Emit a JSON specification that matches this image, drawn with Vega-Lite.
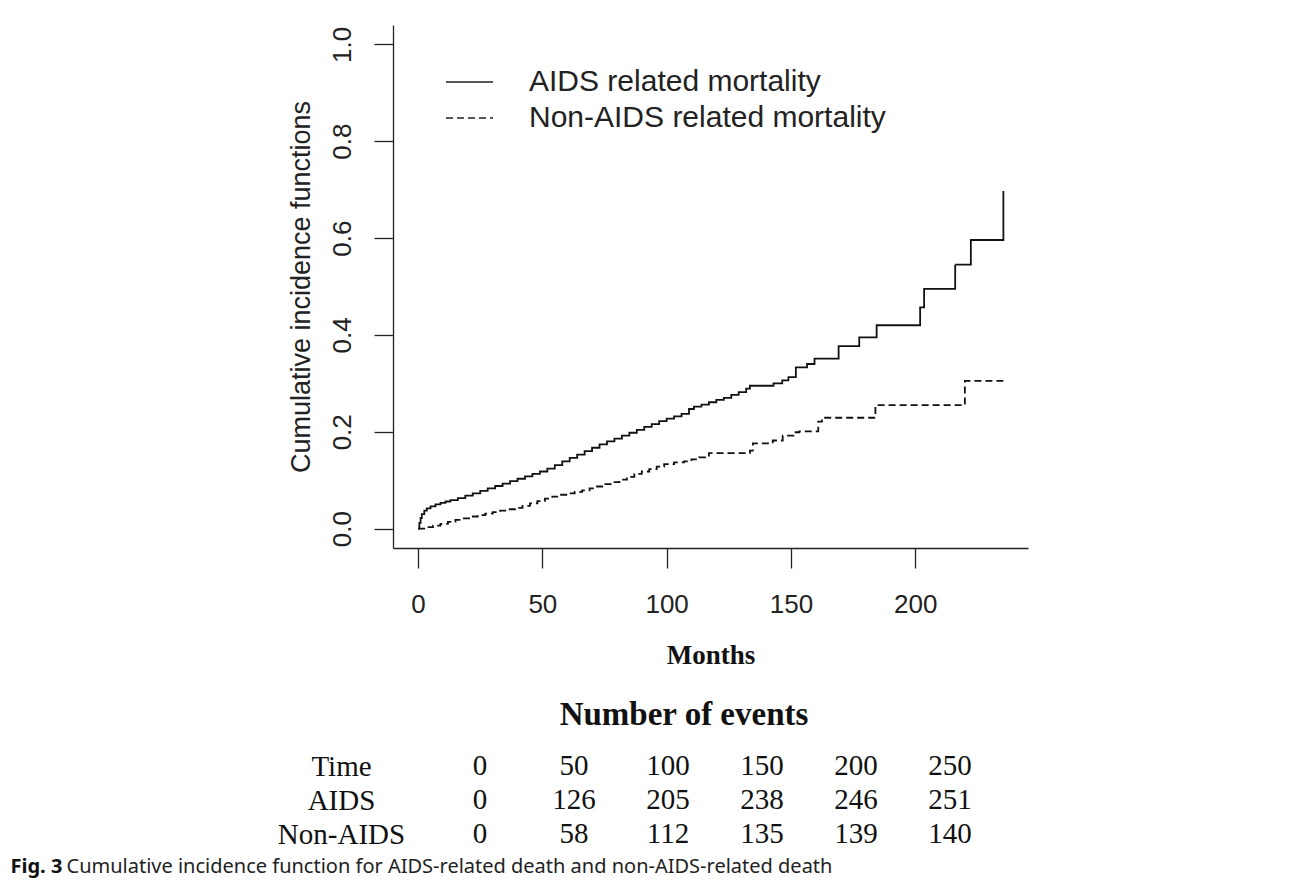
{
  "$schema": "https://vega.github.io/schema/vega-lite/v6.json",
  "background": "white",
  "padding": {"left": 10, "top": 25, "right": 10, "bottom": 5},
  "spacing": 31,
  "config": {
    "view": {"stroke": null},
    "axis": {"grid": false}
  },
  "vconcat": [
    {
      "width": 635,
      "height": 523,
      "data": {
        "values": [
          {"series": "AIDS related mortality", "month": 0, "cif": 0},
          {"series": "AIDS related mortality", "month": 0.5, "cif": 0.012},
          {"series": "AIDS related mortality", "month": 1, "cif": 0.022},
          {"series": "AIDS related mortality", "month": 1.5, "cif": 0.03},
          {"series": "AIDS related mortality", "month": 2.5, "cif": 0.037},
          {"series": "AIDS related mortality", "month": 3.5, "cif": 0.042},
          {"series": "AIDS related mortality", "month": 5, "cif": 0.046},
          {"series": "AIDS related mortality", "month": 7, "cif": 0.05},
          {"series": "AIDS related mortality", "month": 9, "cif": 0.053},
          {"series": "AIDS related mortality", "month": 11, "cif": 0.056},
          {"series": "AIDS related mortality", "month": 13, "cif": 0.059},
          {"series": "AIDS related mortality", "month": 16, "cif": 0.063},
          {"series": "AIDS related mortality", "month": 19, "cif": 0.068},
          {"series": "AIDS related mortality", "month": 22, "cif": 0.073},
          {"series": "AIDS related mortality", "month": 25, "cif": 0.078},
          {"series": "AIDS related mortality", "month": 28, "cif": 0.083},
          {"series": "AIDS related mortality", "month": 31, "cif": 0.088},
          {"series": "AIDS related mortality", "month": 34, "cif": 0.093},
          {"series": "AIDS related mortality", "month": 37, "cif": 0.098},
          {"series": "AIDS related mortality", "month": 40, "cif": 0.103},
          {"series": "AIDS related mortality", "month": 43, "cif": 0.108},
          {"series": "AIDS related mortality", "month": 46, "cif": 0.113},
          {"series": "AIDS related mortality", "month": 49, "cif": 0.118},
          {"series": "AIDS related mortality", "month": 52, "cif": 0.124},
          {"series": "AIDS related mortality", "month": 55, "cif": 0.131},
          {"series": "AIDS related mortality", "month": 58, "cif": 0.139},
          {"series": "AIDS related mortality", "month": 61, "cif": 0.146},
          {"series": "AIDS related mortality", "month": 64, "cif": 0.153},
          {"series": "AIDS related mortality", "month": 67, "cif": 0.16},
          {"series": "AIDS related mortality", "month": 70, "cif": 0.167},
          {"series": "AIDS related mortality", "month": 73, "cif": 0.174},
          {"series": "AIDS related mortality", "month": 76, "cif": 0.18},
          {"series": "AIDS related mortality", "month": 79, "cif": 0.186},
          {"series": "AIDS related mortality", "month": 82, "cif": 0.192},
          {"series": "AIDS related mortality", "month": 85, "cif": 0.198},
          {"series": "AIDS related mortality", "month": 88, "cif": 0.204},
          {"series": "AIDS related mortality", "month": 91, "cif": 0.21},
          {"series": "AIDS related mortality", "month": 94, "cif": 0.216},
          {"series": "AIDS related mortality", "month": 97, "cif": 0.222},
          {"series": "AIDS related mortality", "month": 100, "cif": 0.227},
          {"series": "AIDS related mortality", "month": 103, "cif": 0.232},
          {"series": "AIDS related mortality", "month": 106, "cif": 0.237},
          {"series": "AIDS related mortality", "month": 109, "cif": 0.247},
          {"series": "AIDS related mortality", "month": 111, "cif": 0.252},
          {"series": "AIDS related mortality", "month": 114, "cif": 0.256},
          {"series": "AIDS related mortality", "month": 117, "cif": 0.261},
          {"series": "AIDS related mortality", "month": 120, "cif": 0.266},
          {"series": "AIDS related mortality", "month": 123, "cif": 0.27},
          {"series": "AIDS related mortality", "month": 126, "cif": 0.276},
          {"series": "AIDS related mortality", "month": 129, "cif": 0.282},
          {"series": "AIDS related mortality", "month": 132, "cif": 0.289},
          {"series": "AIDS related mortality", "month": 133.5, "cif": 0.295},
          {"series": "AIDS related mortality", "month": 143, "cif": 0.3},
          {"series": "AIDS related mortality", "month": 146.5, "cif": 0.306},
          {"series": "AIDS related mortality", "month": 149, "cif": 0.313},
          {"series": "AIDS related mortality", "month": 152, "cif": 0.333},
          {"series": "AIDS related mortality", "month": 156.5, "cif": 0.34},
          {"series": "AIDS related mortality", "month": 159.5, "cif": 0.351},
          {"series": "AIDS related mortality", "month": 169.2, "cif": 0.377},
          {"series": "AIDS related mortality", "month": 177.5, "cif": 0.395},
          {"series": "AIDS related mortality", "month": 184.5, "cif": 0.42},
          {"series": "AIDS related mortality", "month": 202, "cif": 0.457},
          {"series": "AIDS related mortality", "month": 203.6, "cif": 0.495},
          {"series": "AIDS related mortality", "month": 216.1, "cif": 0.545},
          {"series": "AIDS related mortality", "month": 222.4, "cif": 0.596},
          {"series": "AIDS related mortality", "month": 235.5, "cif": 0.697},
          {"series": "Non-AIDS related mortality", "month": 0, "cif": 0},
          {"series": "Non-AIDS related mortality", "month": 3.5, "cif": 0.003},
          {"series": "Non-AIDS related mortality", "month": 6, "cif": 0.006},
          {"series": "Non-AIDS related mortality", "month": 9, "cif": 0.01},
          {"series": "Non-AIDS related mortality", "month": 12, "cif": 0.014},
          {"series": "Non-AIDS related mortality", "month": 15, "cif": 0.018},
          {"series": "Non-AIDS related mortality", "month": 18, "cif": 0.021},
          {"series": "Non-AIDS related mortality", "month": 21, "cif": 0.025},
          {"series": "Non-AIDS related mortality", "month": 24, "cif": 0.028},
          {"series": "Non-AIDS related mortality", "month": 27, "cif": 0.031},
          {"series": "Non-AIDS related mortality", "month": 30, "cif": 0.034},
          {"series": "Non-AIDS related mortality", "month": 33, "cif": 0.037},
          {"series": "Non-AIDS related mortality", "month": 36, "cif": 0.04},
          {"series": "Non-AIDS related mortality", "month": 39, "cif": 0.043},
          {"series": "Non-AIDS related mortality", "month": 42, "cif": 0.047},
          {"series": "Non-AIDS related mortality", "month": 45, "cif": 0.052},
          {"series": "Non-AIDS related mortality", "month": 48, "cif": 0.057},
          {"series": "Non-AIDS related mortality", "month": 51, "cif": 0.062},
          {"series": "Non-AIDS related mortality", "month": 54, "cif": 0.066},
          {"series": "Non-AIDS related mortality", "month": 57, "cif": 0.07},
          {"series": "Non-AIDS related mortality", "month": 60, "cif": 0.073},
          {"series": "Non-AIDS related mortality", "month": 63, "cif": 0.076},
          {"series": "Non-AIDS related mortality", "month": 66, "cif": 0.079},
          {"series": "Non-AIDS related mortality", "month": 69, "cif": 0.083},
          {"series": "Non-AIDS related mortality", "month": 72, "cif": 0.087},
          {"series": "Non-AIDS related mortality", "month": 75, "cif": 0.092},
          {"series": "Non-AIDS related mortality", "month": 78, "cif": 0.096},
          {"series": "Non-AIDS related mortality", "month": 81, "cif": 0.101},
          {"series": "Non-AIDS related mortality", "month": 84, "cif": 0.107},
          {"series": "Non-AIDS related mortality", "month": 87, "cif": 0.113},
          {"series": "Non-AIDS related mortality", "month": 90, "cif": 0.118},
          {"series": "Non-AIDS related mortality", "month": 93, "cif": 0.123},
          {"series": "Non-AIDS related mortality", "month": 96, "cif": 0.128},
          {"series": "Non-AIDS related mortality", "month": 99, "cif": 0.133},
          {"series": "Non-AIDS related mortality", "month": 103, "cif": 0.137},
          {"series": "Non-AIDS related mortality", "month": 107, "cif": 0.139},
          {"series": "Non-AIDS related mortality", "month": 110, "cif": 0.143},
          {"series": "Non-AIDS related mortality", "month": 113, "cif": 0.147},
          {"series": "Non-AIDS related mortality", "month": 117, "cif": 0.156},
          {"series": "Non-AIDS related mortality", "month": 133.5, "cif": 0.161},
          {"series": "Non-AIDS related mortality", "month": 134.7, "cif": 0.176},
          {"series": "Non-AIDS related mortality", "month": 142.7, "cif": 0.182},
          {"series": "Non-AIDS related mortality", "month": 146.7, "cif": 0.192},
          {"series": "Non-AIDS related mortality", "month": 151, "cif": 0.199},
          {"series": "Non-AIDS related mortality", "month": 153.4, "cif": 0.201},
          {"series": "Non-AIDS related mortality", "month": 161, "cif": 0.221},
          {"series": "Non-AIDS related mortality", "month": 162.5, "cif": 0.229},
          {"series": "Non-AIDS related mortality", "month": 184, "cif": 0.255},
          {"series": "Non-AIDS related mortality", "month": 220, "cif": 0.305},
          {"series": "Non-AIDS related mortality", "month": 236, "cif": 0.305}
        ]
      },
      "mark": {"type": "line", "interpolate": "step-after", "strokeWidth": 1.8, "color": "#111111"},
      "encoding": {
        "x": {
          "field": "month",
          "type": "quantitative",
          "scale": {"domain": [-10.1, 245.4], "nice": false, "zero": false},
          "axis": {
            "values": [0, 50, 100, 150, 200],
            "format": "d",
            "tickSize": 20,
            "tickWidth": 1.3,
            "tickColor": "#222222",
            "domainColor": "#222222",
            "domainWidth": 1.3,
            "labelFont": "Liberation Sans",
            "labelFontSize": 26,
            "labelColor": "#222222",
            "labelPadding": 23,
            "labelFlush": false,
            "labelOverlap": false,
            "title": "Months",
            "titleFont": "Liberation Serif",
            "titleFontSize": 27,
            "titleFontWeight": "bold",
            "titleColor": "#111111",
            "titlePadding": 25
          }
        },
        "y": {
          "field": "cif",
          "type": "quantitative",
          "scale": {"domain": [-0.04, 1.04], "nice": false, "zero": false},
          "axis": {
            "values": [0, 0.2, 0.4, 0.6, 0.8, 1],
            "format": ".1f",
            "tickSize": 19,
            "tickWidth": 1.3,
            "tickColor": "#222222",
            "domainColor": "#222222",
            "domainWidth": 1.3,
            "labelFont": "Liberation Sans",
            "labelFontSize": 26,
            "labelColor": "#222222",
            "labelAngle": 270,
            "labelAlign": "center",
            "labelBaseline": "alphabetic",
            "labelPadding": 24,
            "labelFlush": false,
            "labelOverlap": false,
            "title": "Cumulative incidence functions",
            "titleFont": "Liberation Sans",
            "titleFontSize": 27,
            "titleFontWeight": "normal",
            "titleColor": "#222222",
            "titlePadding": 14
          }
        },
        "strokeDash": {
          "field": "series",
          "type": "nominal",
          "scale": {
            "domain": ["AIDS related mortality", "Non-AIDS related mortality"],
            "range": [[1, 0], [7, 4]]
          },
          "legend": {
            "orient": "none",
            "legendX": 61.5,
            "legendY": 42,
            "title": null,
            "padding": 0,
            "symbolType": "M-2.35,0H2.35",
            "symbolSize": 400,
            "symbolStrokeWidth": 1.6,
            "symbolStrokeColor": "#222222",
            "symbolFillColor": "transparent",
            "labelFont": "Liberation Sans",
            "labelFontSize": 30,
            "labelColor": "#222222",
            "labelLimit": 0,
            "labelOffset": 44.5,
            "rowPadding": 6
          }
        }
      }
    },
    {
      "width": 644,
      "height": 68,
      "title": {
        "text": "Number of events",
        "font": "Liberation Serif",
        "fontSize": 33,
        "fontWeight": "bold",
        "color": "#111111",
        "anchor": "middle",
        "offset": 20,
        "dx": -31
      },
      "data": {
        "values": [
          {"row": "Time", "col": "0", "val": "0"},
          {"row": "Time", "col": "50", "val": "50"},
          {"row": "Time", "col": "100", "val": "100"},
          {"row": "Time", "col": "150", "val": "150"},
          {"row": "Time", "col": "200", "val": "200"},
          {"row": "Time", "col": "250", "val": "250"},
          {"row": "AIDS", "col": "0", "val": "0"},
          {"row": "AIDS", "col": "50", "val": "126"},
          {"row": "AIDS", "col": "100", "val": "205"},
          {"row": "AIDS", "col": "150", "val": "238"},
          {"row": "AIDS", "col": "200", "val": "246"},
          {"row": "AIDS", "col": "250", "val": "251"},
          {"row": "Non-AIDS", "col": "0", "val": "0"},
          {"row": "Non-AIDS", "col": "50", "val": "58"},
          {"row": "Non-AIDS", "col": "100", "val": "112"},
          {"row": "Non-AIDS", "col": "150", "val": "135"},
          {"row": "Non-AIDS", "col": "200", "val": "139"},
          {"row": "Non-AIDS", "col": "250", "val": "140"}
        ]
      },
      "mark": {"type": "text", "font": "Liberation Serif", "fontSize": 29, "color": "#111111", "baseline": "middle", "align": "center"},
      "encoding": {
        "x": {
          "field": "col",
          "type": "ordinal",
          "sort": ["0", "50", "100", "150", "200", "250"],
          "scale": {"type": "point", "padding": 0.9255},
          "axis": {
            "labels": false,
            "ticks": false,
            "domain": false,
            "title": "Cumulative incidence function for AIDS-related death and non-AIDS-related death",
            "titleFont": "Noto Sans",
            "titleFontSize": 20,
            "titleFontWeight": "normal",
            "titleColor": "#222222",
            "titleAlign": "left",
            "titleBaseline": "middle",
            "titleX": -327,
            "titleY": 32
          }
        },
        "y": {
          "field": "row",
          "type": "ordinal",
          "sort": ["Time", "AIDS", "Non-AIDS"],
          "scale": {"type": "point", "padding": 0},
          "axis": {
            "domain": false,
            "ticks": false,
            "labelAlign": "center",
            "labelBaseline": "middle",
            "labelPadding": 52,
            "labelFont": "Liberation Serif",
            "labelFontSize": 29,
            "labelColor": "#111111",
            "title": "Fig. 3",
            "titleAngle": 0,
            "titleAlign": "left",
            "titleBaseline": "middle",
            "titleX": -383,
            "titleY": 100,
            "titleFont": "Noto Sans",
            "titleFontSize": 20,
            "titleFontWeight": "bold",
            "titleColor": "#111111"
          }
        },
        "text": {"field": "val"}
      }
    }
  ]
}
